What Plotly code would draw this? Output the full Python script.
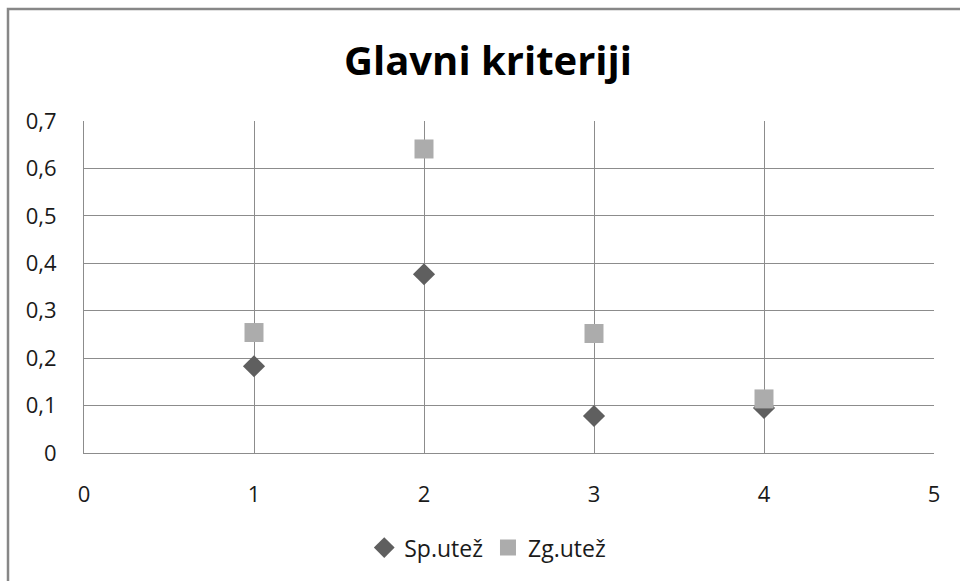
import plotly.graph_objects as go

# Criteria positions and weights for the two series
x_vals = [1, 2, 3, 4]
sp_utez = [0.183, 0.377, 0.078, 0.095]
zg_utez = [0.254, 0.641, 0.252, 0.114]

x_ticks = [0, 1, 2, 3, 4, 5]
y_ticks = [0, 0.1, 0.2, 0.3, 0.4, 0.5, 0.6, 0.7]
y_tick_text = ["0", "0,1", "0,2", "0,3", "0,4", "0,5", "0,6", "0,7"]

FONT = "'Open Sans', Lato, sans-serif"
GRID = "#8c8c8c"

fig = go.Figure()
fig.add_trace(go.Scatter(
    x=x_vals, y=sp_utez, mode="markers", name="Sp.utež",
    marker=dict(symbol="diamond", size=17, color="#5f5f5f",
                line=dict(width=0)),
))
fig.add_trace(go.Scatter(
    x=x_vals, y=zg_utez, mode="markers", name="Zg.utež",
    marker=dict(symbol="square", size=19, color="#acacac",
                line=dict(width=0)),
))

fig.update_layout(
    width=960, height=581,
    paper_bgcolor="white", plot_bgcolor="white",
    margin=dict(l=84, r=26, t=121, b=128),
    font=dict(family=FONT, size=22, color="#000000"),
    title=dict(text="<b>Glavni kriteriji</b>", x=488 / 960, xref="container",
               xanchor="center", y=1 - 61 / 581, yref="container",
               yanchor="middle",
               font=dict(family=FONT, size=40, color="#000000")),
    showlegend=True,
    legend=dict(orientation="h", x=0.475, xanchor="center",
                y=-0.285, yanchor="middle",
                font=dict(family=FONT, size=23, color="#1a1a1a"),
                itemwidth=30, tracegroupgap=0, bgcolor="rgba(0,0,0,0)"),
    xaxis=dict(range=[0, 5], tickvals=x_ticks, ticktext=[str(t) for t in x_ticks],
               showgrid=True, gridcolor=GRID, gridwidth=1,
               showline=True, linecolor=GRID, linewidth=1, mirror=False,
               zeroline=False, ticks="", ticklabelstandoff=22,
               tickfont=dict(family=FONT, size=22, color="#1a1a1a")),
    yaxis=dict(range=[0, 0.7], tickvals=y_ticks, ticktext=y_tick_text,
               showgrid=True, gridcolor=GRID, gridwidth=1,
               showline=True, linecolor=GRID, linewidth=1,
               zeroline=False, ticks="", ticklabelstandoff=22,
               tickfont=dict(family=FONT, size=22, color="#1a1a1a")),
)

# Chart-area frame
fig.add_shape(type="rect", xref="paper", yref="paper",
              x0=-76 / 850, x1=1.2, y0=-0.5, y1=1 + 112 / 332,
              line=dict(color="#878787", width=2.5), layer="below")

fig.write_html("out.html")
